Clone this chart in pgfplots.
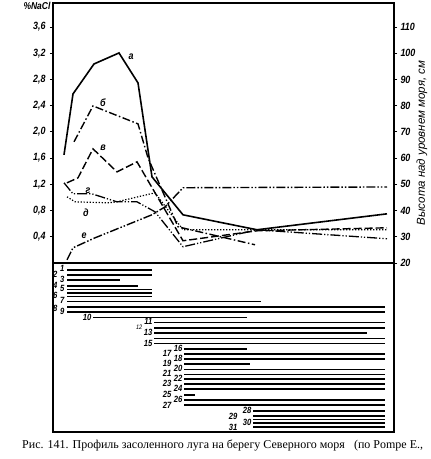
\documentclass[border=0pt]{standalone}
\usepackage{pgfplots}
\pgfplotsset{compat=1.18}
\usepackage{fontspec}
\setmainfont{Liberation Serif}
\newfontfamily\lab[FakeStretch=0.85]{Liberation Sans}
\newfontfamily\labw{Liberation Sans}
\newcommand{\tl}{\lab\bfseries\itshape\fontsize{10.5}{10}\selectfont}
\newcommand{\nl}{\lab\bfseries\itshape\fontsize{9}{9}\selectfont}
\newcommand{\Lb}[3]{\node[font=\nl, anchor=east, inner sep=0.5pt] at (axis cs:#2,#3) {#1};}
\begin{document}
\begin{tikzpicture}[x=1pt,y=1pt]
\path[use as bounding box] (0,0) rectangle (431,459);
% ---------- upper panel, %NaCl ----------
\begin{axis}[
  at={(53pt,196pt)}, anchor=south west, scale only axis,
  width=341pt, height=260pt,
  xmin=0, xmax=341, ymin=0, ymax=3.966,
  axis line style={line width=1.1pt},
  xtick=\empty,
  ytick={0.4,0.8,1.2,1.6,2.0,2.4,2.8,3.2,3.6},
  yticklabels={{0,4},{0,8},{1,2},{1,6},{2,0},{2,4},{2,8},{3,2},{3,6}},
  ytick pos=left, tick align=outside, major tick length=3pt,
  tick style={line width=0.8pt, black},
  yticklabel style={font=\tl, xshift=-1pt},
  clip=false,
]
% а
\addplot[black, line width=1.6pt] coordinates {
 (11,1.650) (20,2.579) (41,3.036) (66,3.204) (85,2.747) (99,1.314) (130,0.735) (204,0.507) (334,0.750)};
% б
\addplot[black, line width=1.4pt, dash pattern=on 8pt off 2.5pt on 1.5pt off 2.5pt] coordinates {
 (21,1.848) (40,2.396) (85,2.122) (95,1.604) (125,0.552) (202,0.278)};
% в
\addplot[black, line width=1.4pt, dash pattern=on 8pt off 3pt] coordinates {
 (14,1.223) (25,1.299) (40,1.741) (64,1.390) (84,1.543) (130,0.339) (204,0.491) (334,0.537)};
% г
\addplot[black, line width=1.3pt, dash pattern=on 10pt off 2pt on 1.2pt off 2pt on 1.2pt off 2pt] coordinates {
 (11,1.223) (20,1.055) (39,1.055) (64,0.933) (84,0.933) (102,0.781) (130,0.248) (204,0.507) (334,0.370)};
% д
\addplot[black, line width=1.2pt, dash pattern=on 1.3pt off 1.7pt] coordinates {
 (14,1.010) (22,0.933) (55,0.918) (64,0.933) (85,1.010) (102,1.070) (130,0.507) (334,0.507)};
\node[font=\tl] at (axis cs:78,3.15) {а};
\node[font=\tl] at (axis cs:50,2.45) {б};
\node[font=\tl] at (axis cs:50,1.76) {в};
\node[font=\tl] at (axis cs:35,1.11) {г};
\node[font=\tl] at (axis cs:33,0.77) {д};
\node[font=\tl] at (axis cs:31,0.41) {е};
\end{axis}
% ---------- upper panel, height axis ----------
\begin{axis}[
  at={(53pt,196pt)}, anchor=south west, scale only axis,
  width=341pt, height=260pt,
  xmin=0, xmax=341, ymin=20, ymax=119.15,
  axis x line=none, axis y line*=right,
  axis line style={line width=1.1pt, -},
  ytick={20,30,40,50,60,70,80,90,100,110},
  tick align=outside, major tick length=3pt,
  tick style={line width=0.8pt, black},
  yticklabel style={font=\tl, xshift=0pt},
  /pgf/number format/assume math mode=true,
  clip=false,
]
% е
\addplot[black, line width=1.4pt, dash pattern=on 9pt off 2pt on 1.5pt off 2pt on 1.5pt off 2pt] coordinates {
 (14,21.2) (20,25.8) (42,29.6) (79,35.3) (99,38.4) (112,41.4) (130,48.7) (334,49.0)};
\end{axis}
% ---------- lower panel, species bars ----------
\begin{axis}[
  at={(53pt,27pt)}, anchor=south west, scale only axis,
  width=341pt, height=169pt,
  xmin=0, xmax=341, ymin=263, ymax=432, y dir=reverse,
  axis line style={line width=1.1pt},
  xtick=\empty, ytick=\empty,
  unbounded coords=jump, clip=false,
]
\addplot[black, line width=1.9pt] coordinates {
 (14,270) (99,270) (nan,nan)
 (14,275) (99,275) (nan,nan)
 (14,280) (67,280) (nan,nan)
 (14,286) (85,286) (nan,nan)
 (14,289.5) (99,289.5) (nan,nan)
 (14,293) (99,293) (nan,nan)
 (14,296.5) (99,296.5) (nan,nan)
 (14,301.5) (208,301.5) (nan,nan)
 (14,307) (332,307) (nan,nan)
 (14,312) (332,312) (nan,nan)
 (40,317.5) (194,317.5) (nan,nan)
 (101,322.5) (332,322.5) (nan,nan)
 (101,328) (332,328) (nan,nan)
 (101,333) (314,333) (nan,nan)
 (101,338.5) (332,338.5) (nan,nan)
 (101,343.5) (332,343.5) (nan,nan)
 (131,349) (194,349) (nan,nan)
 (131,354) (332,354) (nan,nan)
 (131,359) (332,359) (nan,nan)
 (131,364) (197,364) (nan,nan)
 (131,369.5) (332,369.5) (nan,nan)
 (131,374.5) (332,374.5) (nan,nan)
 (131,379) (332,379) (nan,nan)
 (131,384) (332,384) (nan,nan)
 (131,389) (332,389) (nan,nan)
 (131,395) (142,395) (nan,nan)
 (131,400) (332,400) (nan,nan)
 (131,405) (332,405) (nan,nan)
 (200,411) (332,411) (nan,nan)
 (200,416) (332,416) (nan,nan)
 (200,419.5) (332,419.5) (nan,nan)
 (200,423) (332,423) (nan,nan)
 (200,427) (332,427)};
\Lb{1}{12}{268.5}\Lb{2}{5}{274}\Lb{3}{12}{279}\Lb{4}{5}{285}\Lb{5}{12}{288}
\Lb{6}{5}{295.5}\Lb{7}{12}{300.5}\Lb{8}{5}{308}\Lb{9}{12}{311.5}
\Lb{10}{39}{317}\Lb{11}{100}{321.5}\Lb{13}{100}{332.5}\Lb{15}{100}{343.5}
\Lb{16}{130}{348}\Lb{17}{119}{353}\Lb{18}{130}{358.5}\Lb{19}{119}{363.5}
\Lb{20}{130}{368.5}\Lb{21}{119}{373.5}\Lb{22}{130}{378}\Lb{23}{119}{383.5}
\Lb{24}{130}{388.5}\Lb{25}{119}{394.5}\Lb{26}{130}{399.5}\Lb{27}{119}{405}
\Lb{28}{199}{410.5}\Lb{29}{185}{416}\Lb{30}{199}{422}\Lb{31}{185}{427}
\node[font=\lab\itshape\fontsize{6.5}{6}\selectfont, anchor=east, inner sep=0.5pt] at (axis cs:90,327.5) {12};
\end{axis}
% ---------- outer texts ----------
\node[font=\lab\bfseries\itshape\fontsize{10}{10}\selectfont, anchor=center] at (37,453.5) {\%NaCl};
\node[font=\labw\itshape\fontsize{11.5}{11}\selectfont, rotate=90] at (422,316) {Высота над уровнем моря, см};
\node[font=\fontsize{12}{12}\selectfont, anchor=west, inner sep=0pt] at (22,13.5) {Рис. 141. Профиль засоленного луга на берегу Северного моря \ \ (по Pompe E.,};
\end{tikzpicture}
\end{document}
